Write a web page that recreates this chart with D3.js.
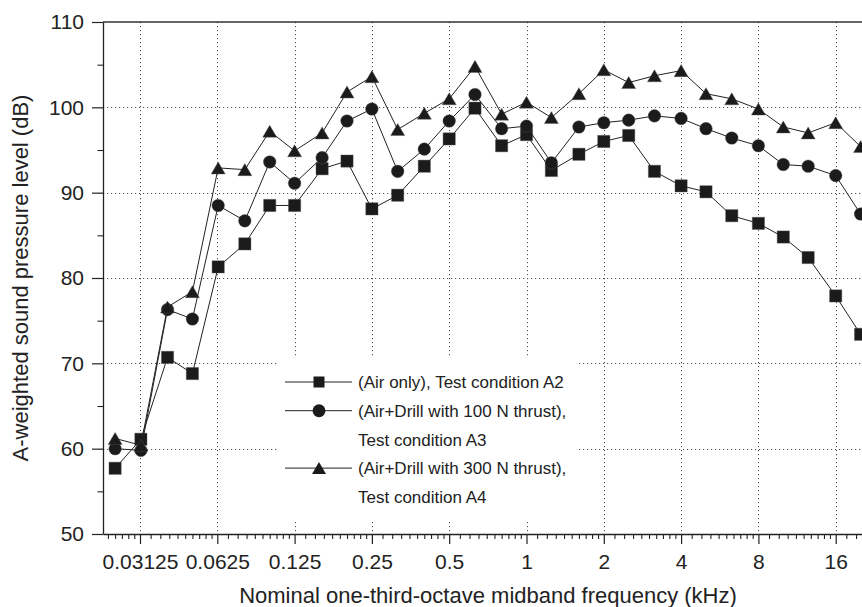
<!DOCTYPE html>
<html><head><meta charset="utf-8">
<script src="https://cdn.jsdelivr.net/npm/d3@7"></script>
<style>
body{margin:0;background:#fff}
svg{display:block}
text{font-family:"Liberation Sans",Arial,Helvetica,sans-serif;fill:#222}
</style>
</head><body>
<svg id="c" width="862" height="607"></svg>
<script>
// ---------- data ----------
const freqs = [0.025, 0.0315, 0.04, 0.05, 0.063, 0.08, 0.1, 0.125, 0.16, 0.2, 0.25, 0.315, 0.4, 0.5, 0.63, 0.8, 1, 1.25, 1.6, 2, 2.5, 3.15, 4, 5, 6.3, 8, 10, 12.5, 16, 20];
const airOnly  = [57.7, 61.1, 70.7, 68.8, 81.3, 84.0, 88.5, 88.5, 92.8, 93.7, 88.1, 89.7, 93.1, 96.3, 99.9, 95.5, 96.8, 92.6, 94.5, 96.0, 96.7, 92.5, 90.8, 90.1, 87.3, 86.4, 84.8, 82.4, 77.9, 73.4];
const drill100 = [60.0, 59.8, 76.3, 75.2, 88.5, 86.7, 93.6, 91.1, 94.1, 98.4, 99.8, 92.5, 95.1, 98.4, 101.5, 97.5, 97.8, 93.5, 97.7, 98.2, 98.5, 99.0, 98.7, 97.5, 96.4, 95.5, 93.3, 93.1, 92.0, 87.5];
const drill300 = [61.2, 60.4, 76.6, 78.4, 92.9, 92.7, 97.2, 94.9, 97.0, 101.8, 103.6, 97.4, 99.3, 101.0, 104.8, 99.2, 100.6, 98.8, 101.6, 104.4, 102.9, 103.7, 104.3, 101.6, 101.0, 99.8, 97.7, 97.0, 98.2, 95.4];
const seriesNames = ["(Air only), Test condition A2", "(Air+Drill with 100 N thrust),\nTest condition A3", "(Air+Drill with 300 N thrust),\nTest condition A4"];
const xTickValues = [0.03125, 0.0625, 0.125, 0.25, 0.5, 1, 2, 4, 8, 16];
const xTickLabels = ["0.03125", "0.0625", "0.125", "0.25", "0.5", "1", "2", "4", "8", "16"];
const yTickValues = [50, 60, 70, 80, 90, 100, 110];
const yMinorValues = [55, 65, 75, 85, 95, 105];
const xTitle = "Nominal one-third-octave midband frequency (kHz)";
const yTitle = "A-weighted sound pressure level (dB)";

// ---------- layout ----------
const svg = d3.select("#c");
const L = 103, T = 22, B = 534, R = 880, W = 862;
const xRef = d3.scaleLog().base(2).domain([0.03125, 16]).range([140, 835.7]);
const x = d3.scaleLog().base(2).domain([xRef.invert(L), xRef.invert(R)]).range([L, R]);
const y = d3.scaleLinear().domain([50, 110]).range([B, T]);

// minor x ticks: linear subdivisions inside each octave
const xMinor = [];
for (let b = 0.015625; b <= 16; b *= 2) {
  for (let k = 1; k <= 9; k++) {
    const v = b * (1 + k / 10);
    if (v > x.domain()[0] && v < x.domain()[1]) xMinor.push(v);
  }
}

// ---------- grid ----------
const grid = svg.append("g").attr("stroke", "#555").attr("stroke-width", 1).attr("stroke-dasharray", "1.2,2.8");
grid.selectAll(".gx").data(xTickValues).join("line")
  .attr("x1", d => Math.round(x(d)) + 0.5).attr("x2", d => Math.round(x(d)) + 0.5)
  .attr("y1", T).attr("y2", B);
grid.selectAll(".gy").data(yTickValues.filter(v => v > 50 && v < 110)).join("line")
  .attr("x1", L).attr("x2", W)
  .attr("y1", d => Math.round(y(d)) + 0.5).attr("y2", d => Math.round(y(d)) + 0.5);

// top frame line
svg.append("line").attr("x1", L).attr("x2", W).attr("y1", T).attr("y2", T)
  .attr("stroke", "#333").attr("stroke-width", 1.6);

// ---------- legend background ----------
svg.append("rect").attr("x", 278).attr("y", 357).attr("width", 298).attr("height", 164).attr("fill", "#fff");

// ---------- symbols ----------
const triType = { draw(ctx, size) { const w = Math.sqrt(size); const h = w * 0.86; ctx.moveTo(0, -h / 2); ctx.lineTo(w / 2, h / 2); ctx.lineTo(-w / 2, h / 2); ctx.closePath(); } };
const types = [d3.symbolSquare, d3.symbolCircle, triType];
const sizes = [150, 125, 196];
const legendSizes = [121, 130, 196];
const allSeries = [airOnly, drill100, drill300];

const line = d3.line().x((d, i) => x(freqs[i])).y(d => y(d));
allSeries.forEach((s, si) => {
  svg.append("path").datum(s).attr("d", line).attr("fill", "none").attr("stroke", "#222").attr("stroke-width", 1);
});
allSeries.forEach((s, si) => {
  svg.append("g").selectAll("path").data(s).join("path")
    .attr("transform", (d, i) => `translate(${x(freqs[i])},${y(d)})`)
    .attr("d", d3.symbol().type(types[si]).size(sizes[si]))
    .attr("fill", "#1b1b1b").attr("stroke", "#555").attr("stroke-width", 0.4);
});

// ---------- axes ----------
function styleAxis(g, fs) {
  g.select(".domain").attr("stroke", "#222").attr("stroke-width", 1.3);
  g.selectAll(".tick line").attr("stroke", "#222").attr("stroke-width", 1.2);
  g.selectAll("text").attr("font-size", fs).attr("font-family", "Liberation Sans, Arial, sans-serif").attr("fill", "#222");
}
const gxMinor = svg.append("g").attr("transform", `translate(0,${B})`)
  .call(d3.axisBottom(x).tickValues(xMinor).tickSize(5).tickSizeOuter(0).tickFormat(""));
gxMinor.select(".domain").remove();
gxMinor.selectAll(".tick line").attr("stroke", "#222").attr("stroke-width", 1.1);
const gx = svg.append("g").attr("transform", `translate(0,${B})`)
  .call(d3.axisBottom(x).tickValues(xTickValues).tickFormat((d, i) => xTickLabels[i]).tickSize(10).tickSizeOuter(0).tickPadding(10));
styleAxis(gx, 21);

const gyMinor = svg.append("g").attr("transform", `translate(${L},0)`)
  .call(d3.axisLeft(y).tickValues(yMinorValues).tickSize(5.5).tickSizeOuter(0).tickFormat(""));
gyMinor.select(".domain").remove();
gyMinor.selectAll(".tick line").attr("stroke", "#222").attr("stroke-width", 1.1);
const gy = svg.append("g").attr("transform", `translate(${L},0)`)
  .call(d3.axisLeft(y).tickValues(yTickValues).tickSize(11).tickSizeOuter(0).tickPadding(8));
styleAxis(gy, 21);

// ---------- titles ----------
svg.append("text").attr("x", 488).attr("y", 603).attr("text-anchor", "middle").attr("font-size", 22).text(xTitle);
svg.append("text").attr("transform", "translate(28,278) rotate(-90)").attr("text-anchor", "middle").attr("font-size", 22).text(yTitle);

// ---------- legend ----------
const leg = svg.append("g");
let row = 0;
seriesNames.forEach((name, si) => {
  const lines = name.split("\n");
  const ry = 382 + row * 28.7;
  leg.append("line").attr("x1", 285).attr("x2", 352).attr("y1", ry).attr("y2", ry).attr("stroke", "#222").attr("stroke-width", 1);
  leg.append("path").attr("transform", `translate(319,${ry})`)
    .attr("d", d3.symbol().type(types[si]).size(legendSizes[si])).attr("fill", "#1b1b1b");
  lines.forEach((t, li) => {
    leg.append("text").attr("x", 358).attr("y", 382 + (row + li) * 28.7).attr("dy", "0.36em").attr("font-size", 17).text(t);
  });
  row += lines.length;
});
</script>
</body></html>
